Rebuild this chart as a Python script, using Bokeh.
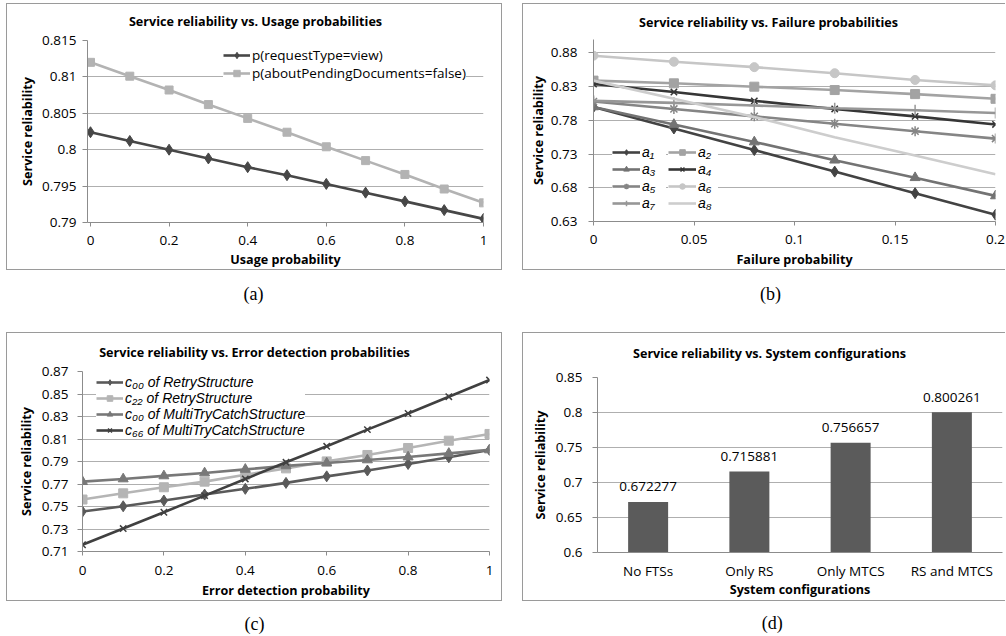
from bokeh.plotting import figure
from bokeh.models import (Range1d, FactorRange, FixedTicker, Label, Legend, LegendItem, Spacer)
from bokeh.layouts import column, row
from bokeh.embed import file_html
from bokeh.resources import INLINE
from bokeh.core.properties import value

# ---------------- data ----------------
# (a) Service reliability vs. Usage probabilities
usage_x = [0.0, 0.1, 0.2, 0.3, 0.4, 0.5, 0.6, 0.7, 0.8, 0.9, 1.0]
rel_request_view = [0.8024, 0.8012, 0.8000, 0.7988, 0.7976, 0.7965, 0.7953, 0.7941, 0.7929, 0.7917, 0.7905]
rel_pending_docs = [0.8120, 0.8101, 0.8082, 0.8062, 0.8043, 0.8024, 0.8004, 0.7985, 0.7966, 0.7946, 0.7927]
usage_names = ["p(requestType=view)", "p(aboutPendingDocuments=false)"]
usage_x_ticks = [0, 0.2, 0.4, 0.6, 0.8, 1]
usage_x_labels = ["0", "0.2", "0.4", "0.6", "0.8", "1"]
usage_y_ticks = [0.79, 0.795, 0.8, 0.805, 0.81, 0.815]
usage_y_labels = ["0.79", "0.795", "0.8", "0.805", "0.81", "0.815"]

# (b) Service reliability vs. Failure probabilities
failure_x = [0.0, 0.04, 0.08, 0.12, 0.16, 0.2]
rel_a1 = [0.800, 0.768, 0.736, 0.704, 0.672, 0.640]
rel_a2 = [0.839, 0.835, 0.830, 0.825, 0.819, 0.812]
rel_a3 = [0.800, 0.774, 0.748, 0.721, 0.695, 0.668]
rel_a4 = [0.834, 0.822, 0.809, 0.797, 0.786, 0.774]
rel_a5 = [0.808, 0.797, 0.786, 0.775, 0.764, 0.753]
rel_a6 = [0.876, 0.867, 0.859, 0.850, 0.840, 0.832]
rel_a7 = [0.809, 0.806, 0.802, 0.798, 0.795, 0.791]
rel_a8 = [0.839, 0.812, 0.785, 0.755, 0.728, 0.700]
failure_names = ["a\u2081", "a\u2082", "a\u2083", "a\u2084", "a\u2085", "a\u2086", "a\u2087", "a\u2088"]
failure_x_ticks = [0, 0.05, 0.1, 0.15, 0.2]
failure_x_labels = ["0", "0.05", "0.1", "0.15", "0.2"]
failure_y_ticks = [0.63, 0.68, 0.73, 0.78, 0.83, 0.88]
failure_y_labels = ["0.63", "0.68", "0.73", "0.78", "0.83", "0.88"]

# (c) Service reliability vs. Error detection probabilities
detect_x = [0.0, 0.1, 0.2, 0.3, 0.4, 0.5, 0.6, 0.7, 0.8, 0.9, 1.0]
rel_c00_rs = [0.7455, 0.7502, 0.7553, 0.7606, 0.7657, 0.7710, 0.7768, 0.7820, 0.7878, 0.7937, 0.8003]
rel_c22_rs = [0.7562, 0.7617, 0.7671, 0.7721, 0.7783, 0.7839, 0.7901, 0.7958, 0.8020, 0.8085, 0.8145]
rel_c00_mtcs = [0.7721, 0.7745, 0.7772, 0.7798, 0.7830, 0.7861, 0.7886, 0.7914, 0.7940, 0.7972, 0.8003]
rel_c66_mtcs = [0.7160, 0.7304, 0.7449, 0.7597, 0.7745, 0.7893, 0.8035, 0.8183, 0.8327, 0.8476, 0.8624]
detect_names = ["c\u2080\u2080 of RetryStructure", "c\u2082\u2082 of RetryStructure",
                "c\u2080\u2080 of MultiTryCatchStructure", "c\u2086\u2086 of MultiTryCatchStructure"]
detect_x_ticks = [0, 0.2, 0.4, 0.6, 0.8, 1]
detect_x_labels = ["0", "0.2", "0.4", "0.6", "0.8", "1"]
detect_y_ticks = [0.71, 0.73, 0.75, 0.77, 0.79, 0.81, 0.83, 0.85, 0.87]
detect_y_labels = ["0.71", "0.73", "0.75", "0.77", "0.79", "0.81", "0.83", "0.85", "0.87"]

# (d) Service reliability vs. System configurations
configs = ["No FTSs", "Only RS", "Only MTCS", "RS and MTCS"]
config_rel = [0.672277, 0.715881, 0.756657, 0.800261]
config_y_ticks = [0.6, 0.65, 0.7, 0.75, 0.8, 0.85]
config_y_labels = ["0.6", "0.65", "0.7", "0.75", "0.8", "0.85"]

titles = ["Service reliability vs. Usage probabilities",
          "Service reliability vs. Failure probabilities",
          "Service reliability vs. Error detection probabilities",
          "Service reliability vs. System configurations"]
x_titles = ["Usage probability", "Failure probability", "Error detection probability",
            "System configurations"]
y_title = "Service reliability"
captions = ["(a)", "(b)", "(c)", "(d)"]

# ---------------- styling ----------------
FONT = "Open Sans"
LEG_FONT = "Liberation Sans"
SERIF = "Liberation Serif"
GRID = "#afafaf"
AXIS = "#8c8c8c"
BORDER = "#9a9a9a"
TICK_FS = "13.5px"
TITLE_FS = "12.6px"
BOX_FULL = {"box-shadow": "inset 0 0 0 1px " + BORDER}
BOX_OPEN = {"box-shadow": "inset 1px 1px 0 0 %s, inset 0 -1px 0 0 %s" % (BORDER, BORDER)}


def text_fig(fw, h, left, right, items, font, size, style):
    # x data coordinates = pixels from the left edge of the figure
    p = figure(frame_width=fw, frame_height=h, min_border_left=left, min_border_right=right,
               min_border_top=0, min_border_bottom=0,
               x_range=Range1d(left, left + fw), y_range=Range1d(h, 0),
               x_axis_type=None, y_axis_type=None,
               output_backend="svg", toolbar_location=None)
    p.outline_line_color = None
    p.background_fill_color = None
    p.border_fill_color = None
    for (x, y, t) in items:
        p.add_layout(Label(x=x, y=y, text=t, text_align="center", text_baseline="middle",
                           text_font=font, text_font_size=size, text_font_style=style,
                           text_color="black"))
    return p


def make_fig(fw, fh, left, right, top, bottom, x_range, y_range):
    p = figure(frame_width=fw, frame_height=fh,
               min_border_left=left, min_border_right=right,
               min_border_top=top, min_border_bottom=bottom,
               x_range=x_range, y_range=y_range, title=None,
               output_backend="svg", toolbar_location=None)
    p.outline_line_color = None
    p.background_fill_color = None
    p.border_fill_color = None
    p.xgrid.visible = False
    p.ygrid.grid_line_color = GRID
    p.ygrid.grid_line_width = 1
    for ax in (p.xaxis[0], p.yaxis[0]):
        ax.axis_line_color = AXIS
        ax.major_tick_line_color = AXIS
        ax.minor_tick_line_color = None
        ax.major_tick_in = 0
        ax.major_label_text_font = FONT
        ax.major_label_text_font_size = TICK_FS
        ax.major_label_text_color = "black"
        ax.axis_label_text_font = FONT
        ax.axis_label_text_font_size = TITLE_FS
        ax.axis_label_text_font_style = "bold"
        ax.axis_label_text_color = "black"
    p.xaxis.major_tick_out = 4
    p.yaxis.major_tick_out = 5
    p.yaxis.axis_label = y_title
    return p


def set_ticks(ax, ticks, labels):
    ax.ticker = FixedTicker(ticks=ticks)
    ax.major_label_overrides = {t: s for t, s in zip(ticks, labels)}


def legend_style(lg, font, size, italic=False):
    lg.label_text_font = font
    lg.label_text_font_size = size
    lg.label_text_font_style = "italic" if italic else "normal"
    lg.label_text_color = "black"
    lg.background_fill_color = "white"
    lg.background_fill_alpha = 1.0
    lg.border_line_color = None
    lg.glyph_width = 27
    lg.label_standoff = 2
    lg.margin = 0


# ---------------- (a) ----------------
pa = make_fig(396, 182, 81, 19, 10, 48, Range1d(-0.0076, 1.0), Range1d(0.79, 0.815))
set_ticks(pa.xaxis[0], usage_x_ticks, usage_x_labels)
set_ticks(pa.yaxis[0], usage_y_ticks, usage_y_labels)
pa.xaxis.major_label_standoff = 9
pa.xaxis.axis_label_standoff = 3
pa.yaxis.major_label_standoff = 6
pa.yaxis.axis_label_standoff = 3
pa.xaxis.axis_label = x_titles[0]
la1 = pa.line(usage_x, rel_request_view, line_color="#474747", line_width=2.6)
ma1 = pa.scatter(usage_x, rel_request_view, marker="diamond", size=11, color="#474747")
la2 = pa.line(usage_x, rel_pending_docs, line_color="#b3b3b3", line_width=2.6)
ma2 = pa.scatter(usage_x, rel_pending_docs, marker="square", size=8, color="#b3b3b3")
lega = Legend(items=[LegendItem(label=usage_names[0], renderers=[la1, ma1]),
                     LegendItem(label=usage_names[1], renderers=[la2, ma2])],
              location=(136, 140), padding=3, spacing=0, glyph_height=16, label_height=16)
legend_style(lega, FONT, "13.5px")
pa.add_layout(lega)

# ---------------- (b) ----------------
pb = make_fig(402, 182, 71, 10, 6, 49, Range1d(0.0, 0.2), Range1d(0.63, 0.90))
set_ticks(pb.xaxis[0], failure_x_ticks, failure_x_labels)
set_ticks(pb.yaxis[0], failure_y_ticks, failure_y_labels)
pb.xaxis.major_label_standoff = 9
pb.xaxis.axis_label_standoff = 4
pb.yaxis.major_label_standoff = 11
pb.yaxis.axis_label_standoff = 1
pb.xaxis.axis_label = x_titles[1]
b_series = [rel_a1, rel_a2, rel_a3, rel_a4, rel_a5, rel_a6, rel_a7, rel_a8]
b_colors = ["#434343", "#a3a3a3", "#737373", "#363636", "#858585", "#c6c6c6", "#979797", "#cdcdcd"]
b_markers = ["diamond", "square", "triangle", "x", "asterisk", "circle", "cross", None]
b_sizes = [11, 9, 10, 9, 10, 9, 11, 0]
b_items = []
for ys, col, mk, sz, nm in zip(b_series, b_colors, b_markers, b_sizes, failure_names):
    rs = [pb.line(failure_x, ys, line_color=col, line_width=2.6)]
    if mk is not None:
        if mk in ("x", "asterisk", "cross"):
            rs.append(pb.scatter(failure_x, ys, marker=mk, size=sz, line_color=col,
                                 line_width=1.5, fill_color=None))
        else:
            rs.append(pb.scatter(failure_x, ys, marker=mk, size=sz, color=col))
    b_items.append(LegendItem(label=nm, renderers=rs))
legb1 = Legend(items=b_items[0::2], location=(19, 10), padding=2, spacing=1,
               glyph_height=14, label_height=14, label_width=24)
legb2 = Legend(items=b_items[1::2], location=(75, 10), padding=2, spacing=1,
               glyph_height=14, label_height=14, label_width=20)
for lg in (legb1, legb2):
    legend_style(lg, LEG_FONT, "14px", italic=True)
    lg.glyph_width = 28
    pb.add_layout(lg)

# ---------------- (c) ----------------
pc = make_fig(407, 180, 76, 13, 9, 50, Range1d(0.0, 1.0), Range1d(0.71, 0.87))
set_ticks(pc.xaxis[0], detect_x_ticks, detect_x_labels)
set_ticks(pc.yaxis[0], detect_y_ticks, detect_y_labels)
pc.xaxis.major_label_standoff = 10
pc.xaxis.axis_label_standoff = 4
pc.yaxis.major_label_standoff = 9
pc.yaxis.axis_label_standoff = 4
pc.xaxis.axis_label = x_titles[2]
c_series = [rel_c00_rs, rel_c22_rs, rel_c00_mtcs, rel_c66_mtcs]
c_colors = ["#5a5a5a", "#b5b5b5", "#787878", "#404040"]
c_markers = ["diamond", "square", "triangle", "x"]
c_sizes = [11, 9, 10, 9]
c_items = []
for ys, col, mk, sz, nm in zip(c_series, c_colors, c_markers, c_sizes, detect_names):
    rs = [pc.line(detect_x, ys, line_color=col, line_width=2.6)]
    if mk == "x":
        rs.append(pc.scatter(detect_x, ys, marker=mk, size=sz, line_color=col,
                             line_width=1.5, fill_color=None))
    else:
        rs.append(pc.scatter(detect_x, ys, marker=mk, size=sz, color=col))
    c_items.append(LegendItem(label=nm, renderers=rs))
legc = Legend(items=c_items, location=(14, 113), padding=3, spacing=0,
              glyph_height=14, label_height=14)
legend_style(legc, LEG_FONT, "14px", italic=True)
pc.add_layout(legc)

# ---------------- (d) ----------------
pd_ = make_fig(405, 175, 75, 3, 15, 49, FactorRange(*configs), Range1d(0.6, 0.85))
set_ticks(pd_.yaxis[0], config_y_ticks, config_y_labels)
pd_.yaxis.major_label_standoff = 10
pd_.yaxis.axis_label_standoff = 4
pd_.xaxis.major_tick_line_color = None
pd_.xaxis.major_tick_out = 0
pd_.xaxis.major_label_standoff = 9
pd_.xaxis.axis_label_standoff = -2
pd_.xaxis.axis_label = x_titles[3]
pd_.vbar(x=configs, top=config_rel, bottom=0.6, width=0.395, fill_color="#5b5b5b", line_color=None)
pd_.text(x=configs, y=config_rel, text=[str(v) for v in config_rel], text_align="center",
         text_baseline="middle", y_offset=-15, text_font=value(FONT), text_font_size="13.5px",
         text_color="black")

# ---------------- titles, boxes, captions ----------------
ta = text_fig(396, 27, 81, 19, [(249, 18, titles[0])], FONT, TITLE_FS, "bold")
tb = text_fig(402, 30, 71, 10, [(246, 19, titles[1])], FONT, TITLE_FS, "bold")
tc = text_fig(407, 30, 76, 13, [(248, 20.3, titles[2])], FONT, TITLE_FS, "bold")
td = text_fig(405, 30, 75, 3, [(247, 21.3, titles[3])], FONT, TITLE_FS, "bold")

box_a = column(ta, pa, styles=BOX_FULL)
box_b = column(tb, pb, styles=BOX_OPEN)
box_c = column(tc, pc, styles=BOX_FULL)
box_d = column(td, pd_, styles=BOX_OPEN)

cap1 = text_fig(1005, 62, 0, 0, [(253, 23, captions[0]), (770, 23, captions[1])], SERIF, "18px", "normal")
cap2 = text_fig(1005, 34, 0, 0, [(254, 22.5, captions[2]), (771.7, 21.5, captions[3])], SERIF, "18px", "normal")

layout = column(
    Spacer(width=1005, height=3),
    row(Spacer(width=6, height=267), box_a, Spacer(width=20, height=267), box_b),
    cap1,
    row(Spacer(width=6, height=269), box_c, Spacer(width=20, height=269), box_d),
    cap2,
)
open("out.html", "w").write(file_html(layout, INLINE))
